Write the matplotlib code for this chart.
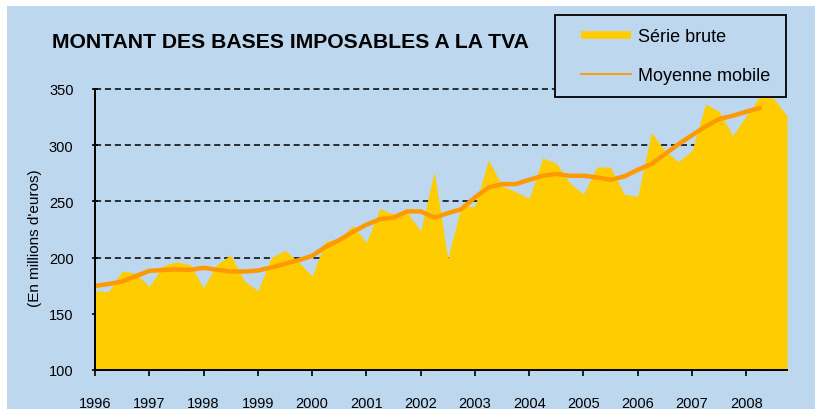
import matplotlib
matplotlib.use("Agg")
import matplotlib.pyplot as plt
from matplotlib.lines import Line2D
from matplotlib.patches import Rectangle
from matplotlib.legend_handler import HandlerLine2D
import numpy as np

plt.rcParams['font.family'] = ['Liberation Sans', 'DejaVu Sans']

# Quarterly data, 1996 Q1 .. 2008 Q4 (millions d'euros)
serie_brute = [
    170.4, 169.8, 187.9, 186.1,   # 1996
    174.2, 192.6, 196.2, 193.8,   # 1997
    173.3, 194.1, 202.4, 179.3,   # 1998
    170.4, 200.1, 206.6, 196.2,   # 1999
    183.7, 214.3, 217.3, 228.3,   # 2000
    213.4, 243.7, 238.7, 240.1,   # 2001
    223.8, 276.4, 199.2, 246.1,   # 2002
    245.5, 286.8, 263.9, 258.6,   # 2003
    252.6, 288.5, 284.0, 266.3,   # 2004
    256.5, 280.8, 280.2, 256.5,   # 2005
    254.4, 311.4, 295.1, 285.3,   # 2006
    295.1, 336.6, 330.1, 308.4,   # 2007
    326.2, 343.5, 341.7, 326.2,   # 2008
]
# Moving average, 1996 Q1 .. 2008 Q2
moyenne_mobile = [
    174.8, 176.5, 178.7, 183.5,
    188.2, 189.0, 189.4, 189.1,
    190.9, 189.2, 187.6, 187.6,
    188.5, 191.2, 194.5, 197.7,
    201.5, 209.6, 215.5, 222.9,
    229.2, 234.2, 235.7, 241.1,
    241.1, 235.7, 239.5, 243.1,
    253.5, 262.4, 265.4, 265.4,
    269.2, 272.8, 274.5, 272.8,
    272.8, 271.3, 269.2, 272.2,
    278.1, 283.2, 292.0, 300.9,
    308.9, 316.7, 323.3, 326.2,
    329.8, 333.1,
]
start_year = 1996
years = list(range(1996, 2009))
y_ticks = [100, 150, 200, 250, 300, 350]

title = "MONTANT DES BASES IMPOSABLES A LA TVA"
ylabel = "(En millions d'euros)"
labels = ["Série brute", "Moyenne mobile"]

BG = '#BDD7EE'
YELLOW = '#FFCC00'
ORANGE = '#FF9900'

W, H = 815, 410
fig = plt.figure(figsize=(W / 100, H / 100), dpi=100)
fig.patch.set_facecolor('white')
fig.patches.append(Rectangle((7 / W, 0), 1 - 7 / W, 1 - 7 / H, transform=fig.transFigure,
                             facecolor=BG, edgecolor='none', zorder=-10))

ax = fig.add_axes([95 / W, 1 - 371 / H, (787 - 95) / W, (371 - 90) / H])
ax.set_facecolor(BG)

xs = start_year + np.arange(len(serie_brute)) / 4.0
xm = start_year + np.arange(len(moyenne_mobile)) / 4.0

ax.fill_between(xs, 100, serie_brute, color=YELLOW, linewidth=0, zorder=2)
ax.plot(xm, moyenne_mobile, color=ORANGE, lw=3.2, zorder=3, solid_capstyle='round')

ax.set_xlim(start_year, xs[-1])
ax.set_ylim(100, 350)
ax.set_yticks(y_ticks)
ax.set_xticks(years)
ax.set_xticklabels([str(y) for y in years])

ax.yaxis.grid(True, color='black', linestyle=(0, (4, 2.5)), linewidth=1.1, zorder=1)
ax.set_axisbelow(True)
for gl in ax.get_ygridlines():
    gl.set_clip_on(False)

for s in ['top', 'right']:
    ax.spines[s].set_visible(False)
for s in ['left', 'bottom']:
    ax.spines[s].set_color('black')
    ax.spines[s].set_linewidth(1.4)
    ax.spines[s].set_zorder(4)

ax.tick_params(axis='y', direction='inout', length=5, width=1.2, pad=13, labelsize=10.5)
ax.tick_params(axis='x', direction='out', length=4, width=1.2, pad=15, labelsize=10.5)

ax.set_ylabel(ylabel, fontsize=11, va='center')
ax.yaxis.set_label_coords((35 - 95) / (787 - 95), (371 - 238) / (371 - 90))

fig.text(52 / W, 1 - 42 / H, title, ha='left', va='center', fontsize=15.2, fontweight='bold')

handles = [Line2D([], [], color=YELLOW, lw=5.5, solid_capstyle='butt'),
           Line2D([], [], color=ORANGE, lw=1.3)]
leg = ax.legend(handles, labels, loc='upper left',
                bbox_to_anchor=(555 / W, 1 - 16 / H, 231 / W, 0), bbox_transform=fig.transFigure,
                mode='expand', borderaxespad=0, fontsize=13, handlelength=3.5, handletextpad=0.35,
                borderpad=0.72, labelspacing=1.22, fancybox=False,
                handler_map={Line2D: HandlerLine2D(xpad=0.72)})
fr = leg.get_frame()
fr.set_facecolor(BG)
fr.set_edgecolor('black')
fr.set_linewidth(1.3)
fr.set_alpha(1)
leg.set_zorder(10)

fig.savefig('out.png', dpi=100, facecolor=fig.get_facecolor())
